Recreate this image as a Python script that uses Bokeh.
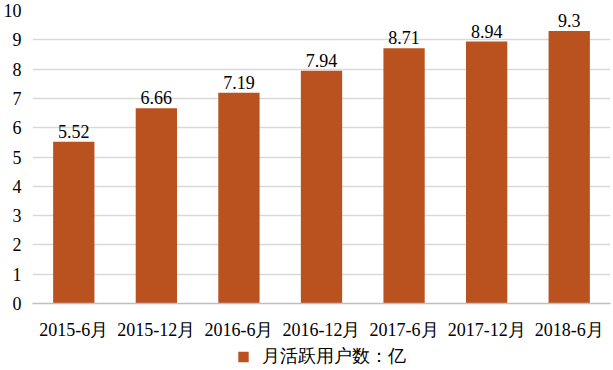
from bokeh.plotting import figure
from bokeh.layouts import column
from bokeh.models import ColumnDataSource, Legend, LegendItem, FixedTicker, LabelSet
from bokeh.embed import file_html
from bokeh.resources import INLINE

categories = ["2015-6月", "2015-12月", "2016-6月", "2016-12月", "2017-6月", "2017-12月", "2018-6月"]
values = [5.52, 6.66, 7.19, 7.94, 8.71, 8.94, 9.3]
labels = ["5.52", "6.66", "7.19", "7.94", "8.71", "8.94", "9.3"]
series_name = "月活跃用户数：亿"
y_ticks = list(range(0, 11))

FONT = "Liberation Serif"
FS = "18px"
COLOR = "#B9521F"

src = ColumnDataSource(dict(x=categories, top=values, lab=labels))

p = figure(x_range=categories, y_range=(0, 10), width=613, height=342,
           output_backend="svg", toolbar_location=None,
           min_border_left=32, min_border_right=3, min_border_top=10, min_border_bottom=38)
p.outline_line_color = None
p.background_fill_color = "white"
p.border_fill_color = "white"

r = p.vbar(x="x", top="top", width=0.5, source=src, fill_color=COLOR, line_color=None)

lbl = LabelSet(x="x", y="top", text="lab", source=src, y_offset=4, text_align="center",
               text_font=FONT, text_font_size=FS, text_color="#000000")
p.add_layout(lbl)

p.yaxis.ticker = FixedTicker(ticks=y_ticks)
p.yaxis.axis_line_color = None
p.yaxis.major_tick_line_color = None
p.yaxis.minor_tick_line_color = None
p.yaxis.major_label_text_font = FONT
p.yaxis.major_label_text_font_size = FS
p.yaxis.major_label_text_color = "#000000"
p.yaxis.major_label_standoff = 5

p.xaxis.axis_line_color = "#BFBFBF"
p.xaxis.axis_line_width = 1.5
p.xaxis.major_tick_line_color = None
p.xaxis.minor_tick_line_color = None
p.xaxis.major_label_text_font = FONT
p.xaxis.major_label_text_font_size = FS
p.xaxis.major_label_text_color = "#000000"
p.xaxis.major_label_standoff = 10

p.xgrid.grid_line_color = None
p.ygrid.grid_line_color = "#D9D9D9"
p.ygrid.grid_line_width = 1.5

# legend strip below the chart (dummy off-range renderer only supplies the swatch)
lf = figure(width=613, height=28, output_backend="svg", toolbar_location=None,
            x_range=(0, 1), y_range=(0, 1),
            min_border_left=0, min_border_right=0, min_border_top=0, min_border_bottom=0)
lf.axis.visible = False
lf.grid.visible = False
lf.outline_line_color = None
lf.border_fill_color = "white"
dummy = ColumnDataSource(dict(x=[-5.0], top=[0.0]))
lr = lf.vbar(x="x", top="top", width=0.1, source=dummy, fill_color=COLOR, line_color=None)
legend = Legend(items=[LegendItem(label=series_name, renderers=[lr])],
                location="center", orientation="horizontal",
                label_text_font=FONT, label_text_font_size=FS,
                label_text_color="#000000", border_line_color=None,
                glyph_width=13, glyph_height=13, label_standoff=12,
                margin=0, padding=0, background_fill_alpha=0)
lf.add_layout(legend)

layout = column(p, lf, spacing=0)
open("out.html", "w").write(file_html(layout, INLINE))
